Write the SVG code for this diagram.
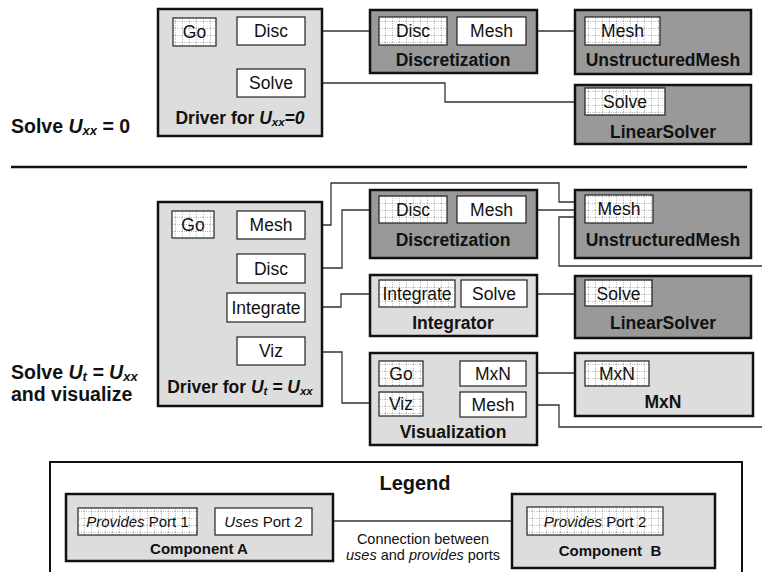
<svg xmlns="http://www.w3.org/2000/svg" width="762" height="572" viewBox="0 0 762 572">
<defs>
<pattern id="grid" width="7" height="7" patternUnits="userSpaceOnUse">
<rect width="7" height="7" fill="#ffffff"/>
<path d="M0 0.5H7M0.5 0V7" stroke="#b0b0b0" stroke-width="0.8" stroke-dasharray="1,1" fill="none"/>
</pattern>
<style>
.dark{fill:#999999;stroke:#111;stroke-width:2.5}
.light{fill:#dddddd;stroke:#111;stroke-width:2.5}
.uses{fill:#ffffff;stroke:#222;stroke-width:1.2}
.prov{fill:url(#grid);stroke:#222;stroke-width:1.2}
.pt{font-family:"Liberation Sans",Arial,sans-serif;font-size:17.5px;text-anchor:middle;fill:#111}
.cl{font-family:"Liberation Sans",Arial,sans-serif;font-size:17.5px;font-weight:bold;text-anchor:middle;fill:#111}
.side{font-family:"Liberation Sans",Arial,sans-serif;font-size:19.5px;font-weight:bold;fill:#111}
.lpt{font-family:"Liberation Sans",Arial,sans-serif;font-size:15px;text-anchor:middle;fill:#111}
.ctx{font-family:"Liberation Sans",Arial,sans-serif;font-size:14.5px;text-anchor:middle;fill:#111}
.lcl{font-family:"Liberation Sans",Arial,sans-serif;font-size:15px;font-weight:bold;text-anchor:middle;fill:#111}
.conn{fill:none;stroke:#333;stroke-width:1.3}
</style>
</defs>
<rect width="762" height="572" fill="#ffffff"/>

<text class="side" x="11" y="133">Solve <tspan font-style="italic">U</tspan><tspan font-style="italic" font-size="13" dy="1.5">xx</tspan><tspan dy="-1.5"> = 0</tspan></text>
<line x1="11" y1="167" x2="747" y2="167" stroke="#111" stroke-width="2.5"/>
<text class="side" x="11" y="379">Solve <tspan font-style="italic">U</tspan><tspan font-style="italic" font-size="13" dy="1.5">t</tspan><tspan font-style="italic" dy="-1.5"> = U</tspan><tspan font-style="italic" font-size="13" dy="1.5">xx</tspan></text>
<text class="side" x="11" y="401">and visualize</text>

<g id="connectors">
<polyline class="conn" points="305,31 379,31"/>
<polyline class="conn" points="526,31 585,31"/>
<polyline class="conn" points="305,83 445,83 445,102 585,102"/>
<polyline class="conn" points="305,225 331,225 331,183 559,183 559,202 585,202"/>
<polyline class="conn" points="305,268 342,268 342,210 379,210"/>
<polyline class="conn" points="526,210 585,210"/>
<polyline class="conn" points="585,217 559,217 559,266 762,266"/>
<polyline class="conn" points="305,307 341,307 341,294 379,294"/>
<polyline class="conn" points="527,294 585,294"/>
<polyline class="conn" points="305,352 342,352 342,403 379,403"/>
<polyline class="conn" points="526,373 585,373"/>
<polyline class="conn" points="526,405 559,405 559,427 762,427"/>
<polyline class="conn" points="312,521 527,521"/>
</g>

<g id="driver1">
<rect class="light" x="158" y="9" width="164" height="127"/>
<rect class="prov" x="173" y="18" width="43" height="28"/><text class="pt" x="194.5" y="38">Go</text>
<rect class="uses" x="237" y="17" width="68" height="28"/><text class="pt" x="271" y="37">Disc</text>
<rect class="uses" x="237" y="69" width="68" height="28"/><text class="pt" x="271" y="89">Solve</text>
<text class="cl" x="240" y="124">Driver for <tspan font-style="italic">U</tspan><tspan font-style="italic" font-size="11.5" dy="1.5">xx</tspan><tspan font-style="italic" dy="-1.5">=0</tspan></text>
</g>

<g id="discretization1">
<rect class="dark" x="370" y="10" width="167" height="63"/>
<rect class="prov" x="379" y="17" width="68" height="28"/><text class="pt" x="413" y="37">Disc</text>
<rect class="uses" x="457" y="17" width="69" height="28"/><text class="pt" x="491.5" y="37">Mesh</text>
<text class="cl" x="453" y="66">Discretization</text>
</g>

<g id="umesh1">
<rect class="dark" x="575" y="10" width="176" height="64"/>
<rect class="prov" x="585" y="17" width="75" height="28"/><text class="pt" x="622.5" y="37">Mesh</text>
<text class="cl" x="663" y="66">UnstructuredMesh</text>
</g>

<g id="linsolver1">
<rect class="dark" x="575" y="85" width="176" height="59"/>
<rect class="prov" x="585" y="88" width="80" height="27"/><text class="pt" x="625" y="108">Solve</text>
<text class="cl" x="663" y="138">LinearSolver</text>
</g>

<g id="driver2">
<rect class="light" x="158" y="202" width="164" height="204"/>
<rect class="prov" x="172" y="211" width="42" height="27"/><text class="pt" x="193" y="231">Go</text>
<rect class="uses" x="237" y="211" width="68" height="28"/><text class="pt" x="271" y="231">Mesh</text>
<rect class="uses" x="237" y="254" width="68" height="29"/><text class="pt" x="271" y="275">Disc</text>
<rect class="uses" x="227" y="293" width="78" height="29"/><text class="pt" x="266" y="314">Integrate</text>
<rect class="uses" x="237" y="337" width="68" height="28"/><text class="pt" x="271" y="357">Viz</text>
<text class="cl" x="240" y="393">Driver for <tspan font-style="italic">U</tspan><tspan font-style="italic" font-size="11.5" dy="1.5">t</tspan><tspan font-style="italic" dy="-1.5"> = U</tspan><tspan font-style="italic" font-size="11.5" dy="1.5">xx</tspan></text>
</g>

<g id="discretization2">
<rect class="dark" x="370" y="190" width="167" height="68"/>
<rect class="prov" x="379" y="196" width="68" height="27"/><text class="pt" x="413" y="216">Disc</text>
<rect class="uses" x="457" y="196" width="69" height="27"/><text class="pt" x="491.5" y="216">Mesh</text>
<text class="cl" x="453" y="246">Discretization</text>
</g>

<g id="umesh2">
<rect class="dark" x="575" y="190" width="176" height="68"/>
<rect class="prov" x="585" y="195" width="68" height="28"/><text class="pt" x="619" y="215">Mesh</text>
<text class="cl" x="663" y="246">UnstructuredMesh</text>
</g>

<g id="integrator">
<rect class="light" x="370" y="275" width="167" height="61"/>
<rect class="prov" x="379" y="280" width="76" height="27"/><text class="pt" x="417" y="300">Integrate</text>
<rect class="uses" x="461" y="280" width="66" height="27"/><text class="pt" x="494" y="300">Solve</text>
<text class="cl" x="453" y="329">Integrator</text>
</g>

<g id="linsolver2">
<rect class="dark" x="575" y="276" width="176" height="62"/>
<rect class="prov" x="585" y="280" width="67" height="26"/><text class="pt" x="618.5" y="300">Solve</text>
<text class="cl" x="663" y="329">LinearSolver</text>
</g>

<g id="visualization">
<rect class="light" x="370" y="353" width="167" height="92"/>
<rect class="prov" x="379" y="361" width="44" height="25"/><text class="pt" x="401" y="380">Go</text>
<rect class="prov" x="379" y="392" width="44" height="24"/><text class="pt" x="401" y="410">Viz</text>
<rect class="uses" x="460" y="361" width="66" height="25"/><text class="pt" x="493" y="380">MxN</text>
<rect class="uses" x="460" y="392" width="66" height="25"/><text class="pt" x="493" y="411">Mesh</text>
<text class="cl" x="453" y="438">Visualization</text>
</g>

<g id="mxn">
<rect class="light" x="575" y="353" width="178" height="63"/>
<rect class="prov" x="585" y="361" width="64" height="25"/><text class="pt" x="617" y="380">MxN</text>
<text class="cl" x="663" y="408">MxN</text>
</g>

<g id="legend">
<rect x="50" y="462" width="692" height="130" fill="none" stroke="#111" stroke-width="2"/>
<text x="415" y="490" font-family="Liberation Sans, Arial, sans-serif" font-size="20" font-weight="bold" text-anchor="middle" fill="#111">Legend</text>
<text class="ctx" x="423" y="544">Connection between</text>
<text class="ctx" x="423" y="560"><tspan font-style="italic">uses</tspan> and <tspan font-style="italic">provides</tspan> ports</text>
</g>

<g id="componentA">
<rect class="light" x="66" y="494" width="267" height="67" stroke-width="2"/>
<rect class="prov" x="78" y="508" width="119" height="27"/><text class="lpt" x="137.5" y="527"><tspan font-style="italic">Provides</tspan> Port 1</text>
<rect class="uses" x="215" y="508" width="97" height="27"/><text class="lpt" x="263.5" y="527"><tspan font-style="italic">Uses</tspan> Port 2</text>
<text class="lcl" x="199" y="554">Component A</text>
</g>

<g id="componentB">
<rect class="light" x="512" y="494" width="203" height="74" stroke-width="2"/>
<rect class="prov" x="527" y="507" width="136" height="28"/><text class="lpt" x="595" y="527"><tspan font-style="italic">Provides</tspan> Port 2</text>
<text class="lcl" x="610" y="556" xml:space="preserve">Component  B</text>
</g>
</svg>
